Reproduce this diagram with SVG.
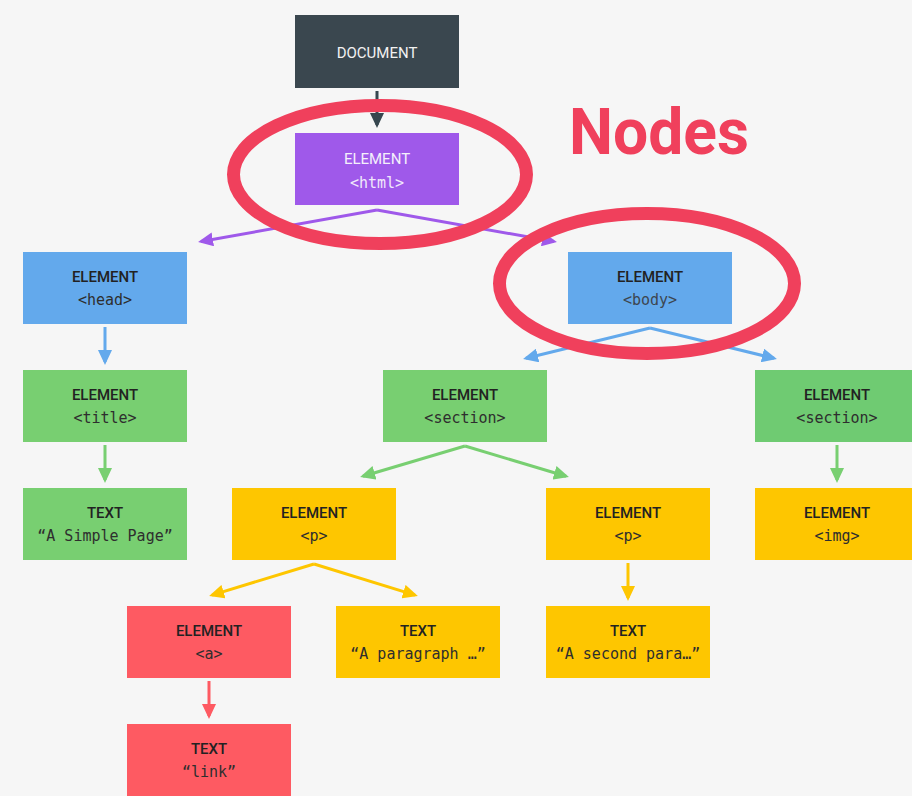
<svg xmlns="http://www.w3.org/2000/svg" width="912" height="796" viewBox="0 0 912 796">
<style>
.t{font-family:Roboto,"Liberation Sans",sans-serif;font-size:15px;font-weight:500;text-anchor:middle;fill:#222}
.m{font-family:"DejaVu Sans Mono","Liberation Mono",monospace;font-size:15px;text-anchor:middle;fill:#2e2e2e}
.c{fill:none;stroke-width:3}
.ring{fill:none;stroke:#f0405c;stroke-width:13}
</style>
<defs>
<marker id="aDark" markerUnits="userSpaceOnUse" markerWidth="15" markerHeight="14" refX="12" refY="7" orient="auto"><path d="M0,0L15,7L0,14z" fill="#37474f"/></marker>
<marker id="aPurple" markerUnits="userSpaceOnUse" markerWidth="15" markerHeight="14" refX="12" refY="7" orient="auto"><path d="M0,0L15,7L0,14z" fill="#9f59ea"/></marker>
<marker id="aBlue" markerUnits="userSpaceOnUse" markerWidth="15" markerHeight="14" refX="12" refY="7" orient="auto"><path d="M0,0L15,7L0,14z" fill="#63a9ec"/></marker>
<marker id="aGreen" markerUnits="userSpaceOnUse" markerWidth="15" markerHeight="14" refX="12" refY="7" orient="auto"><path d="M0,0L15,7L0,14z" fill="#78cf71"/></marker>
<marker id="aYellow" markerUnits="userSpaceOnUse" markerWidth="15" markerHeight="14" refX="12" refY="7" orient="auto"><path d="M0,0L15,7L0,14z" fill="#fec600"/></marker>
<marker id="aRed" markerUnits="userSpaceOnUse" markerWidth="15" markerHeight="14" refX="12" refY="7" orient="auto"><path d="M0,0L15,7L0,14z" fill="#fe5a62"/></marker>
</defs>
<rect width="912" height="796" fill="#f6f6f6"/>

<g id="connectors">
<path class="c" stroke="#37474f" d="M377,91V125" marker-end="url(#aDark)"/>
<path class="c" stroke="#9f59ea" stroke-width="2.5" d="M377,210L201,241.5" marker-end="url(#aPurple)"/>
<path class="c" stroke="#9f59ea" stroke-width="2.5" d="M377,210L554,241.5" marker-end="url(#aPurple)"/>
<path class="c" stroke="#63a9ec" d="M105,327V362" marker-end="url(#aBlue)"/>
<path class="c" stroke="#63a9ec" stroke-width="2.5" d="M650,328L526,358.3" marker-end="url(#aBlue)"/>
<path class="c" stroke="#63a9ec" stroke-width="2.5" d="M650,328L774,358.3" marker-end="url(#aBlue)"/>
<path class="c" stroke="#78cf71" d="M105,445V480" marker-end="url(#aGreen)"/>
<path class="c" stroke="#78cf71" stroke-width="2.5" d="M465,446L363,476.2" marker-end="url(#aGreen)"/>
<path class="c" stroke="#78cf71" stroke-width="2.5" d="M465,446L566,476.2" marker-end="url(#aGreen)"/>
<path class="c" stroke="#78cf71" d="M837,445V480" marker-end="url(#aGreen)"/>
<path class="c" stroke="#fec600" stroke-width="2.5" d="M314,564L212,595.1" marker-end="url(#aYellow)"/>
<path class="c" stroke="#fec600" stroke-width="2.5" d="M314,564L415,595.1" marker-end="url(#aYellow)"/>
<path class="c" stroke="#fec600" d="M628,563V598" marker-end="url(#aYellow)"/>
<path class="c" stroke="#fe5a62" d="M209,681V716" marker-end="url(#aRed)"/>
</g>

<g id="document"><rect x="295" y="15" width="164" height="73" fill="#3a474f"/><text class="t" x="377" y="57.5" style="fill:#f2f2f2;font-weight:400">DOCUMENT</text></g>
<g id="html"><rect x="295" y="133" width="164" height="72" fill="#9f59ea"/><text class="t" x="377" y="164" style="fill:#f4f0fb;font-weight:400">ELEMENT</text><text class="m" x="377" y="188" style="fill:#f0e8fb">&lt;html&gt;</text></g>
<g id="head"><rect x="23" y="252" width="164" height="72" fill="#63a9ec"/><text class="t" x="105" y="282">ELEMENT</text><text class="m" x="105" y="305">&lt;head&gt;</text></g>
<g id="body"><rect x="568" y="252" width="164" height="72" fill="#63a9ec"/><text class="t" x="650" y="282">ELEMENT</text><text class="m" x="650" y="305" style="fill:#3d4650">&lt;body&gt;</text></g>
<g id="title"><rect x="23" y="370" width="164" height="72" fill="#78cf71"/><text class="t" x="105" y="400">ELEMENT</text><text class="m" x="105" y="423">&lt;title&gt;</text></g>
<g id="section1"><rect x="383" y="370" width="164" height="72" fill="#78cf71"/><text class="t" x="465" y="400">ELEMENT</text><text class="m" x="465" y="423">&lt;section&gt;</text></g>
<g id="section2"><rect x="755" y="370" width="164" height="72" fill="#6fcb72"/><text class="t" x="837" y="400">ELEMENT</text><text class="m" x="837" y="423">&lt;section&gt;</text></g>
<g id="text-title"><rect x="23" y="488" width="164" height="72" fill="#78cf71"/><text class="t" x="105" y="518">TEXT</text><text class="m" x="105" y="541">“A Simple Page”</text></g>
<g id="p1"><rect x="232" y="488" width="164" height="72" fill="#fec600"/><text class="t" x="314" y="518">ELEMENT</text><text class="m" x="314" y="541">&lt;p&gt;</text></g>
<g id="p2"><rect x="546" y="488" width="164" height="72" fill="#fec600"/><text class="t" x="628" y="518">ELEMENT</text><text class="m" x="628" y="541">&lt;p&gt;</text></g>
<g id="img"><rect x="755" y="488" width="164" height="72" fill="#fec600"/><text class="t" x="837" y="518">ELEMENT</text><text class="m" x="837" y="541">&lt;img&gt;</text></g>
<g id="a"><rect x="127" y="606" width="164" height="72" fill="#fe5a62"/><text class="t" x="209" y="636">ELEMENT</text><text class="m" x="209" y="659">&lt;a&gt;</text></g>
<g id="text-paragraph"><rect x="336" y="606" width="164" height="72" fill="#fec600"/><text class="t" x="418" y="636">TEXT</text><text class="m" x="418" y="659">“A paragraph …”</text></g>
<g id="text-second"><rect x="546" y="606" width="164" height="72" fill="#fec600"/><text class="t" x="628" y="636">TEXT</text><text class="m" x="628" y="659">“A second para…”</text></g>
<g id="text-link"><rect x="127" y="724" width="164" height="72" fill="#fe5a62"/><text class="t" x="209" y="754">TEXT</text><text class="m" x="209" y="777">“link”</text></g>

<g id="highlights">
<ellipse class="ring" cx="380" cy="174.5" rx="146.5" ry="69"/>
<ellipse class="ring" cx="647" cy="283.5" rx="147.5" ry="70"/>
<text x="569" y="154" font-family="Roboto,'Liberation Sans',sans-serif" font-weight="700" font-size="64" fill="#f0405c" textLength="180" lengthAdjust="spacingAndGlyphs">Nodes</text>
</g>
</svg>
